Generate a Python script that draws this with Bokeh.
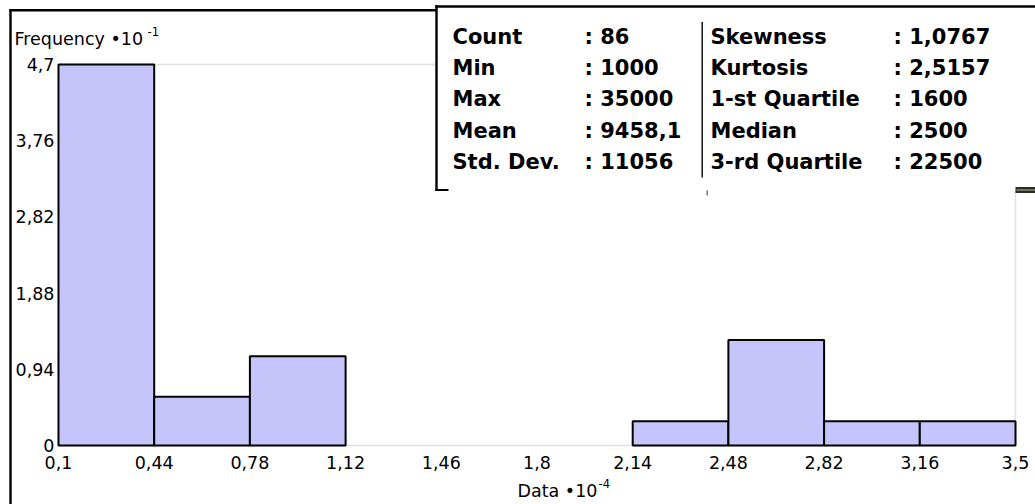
from bokeh.plotting import figure
from bokeh.models import Range1d, FixedTicker, BoxAnnotation, Label
from bokeh.embed import file_html
from bokeh.resources import INLINE

# ---------------- data ----------------
bin_edges = [0.1, 0.44, 0.78, 1.12, 1.46, 1.8, 2.14, 2.48, 2.82, 3.16, 3.5]
frequency = [4.7, 0.6, 1.1, 0.0, 0.0, 0.0, 0.3, 1.3, 0.3, 0.3]   # x 10^-1
x_tick_labels = ["0,1", "0,44", "0,78", "1,12", "1,46", "1,8",
                 "2,14", "2,48", "2,82", "3,16", "3,5"]
y_ticks = [0, 0.94, 1.88, 2.82, 3.76, 4.7]
y_tick_labels = ["0", "0,94", "1,88", "2,82", "3,76", "4,7"]

stat_names_left = ["Count", "Min", "Max", "Mean", "Std. Dev."]
stat_values_left = [": 86", ": 1000", ": 35000", ": 9458,1", ": 11056"]
stat_names_right = ["Skewness", "Kurtosis", "1-st Quartile", "Median", "3-rd Quartile"]
stat_values_right = [": 1,0767", ": 2,5157", ": 1600", ": 2500", ": 22500"]

# ---------------- layout (canvas pixels, from top-left) ----------------
W, H = 1035, 504
FL, FR, FT, FB = 58, 1015, 64, 445          # histogram area in pixels
X0, X1 = bin_edges[0], bin_edges[-1]
Y0, Y1 = y_ticks[0], y_ticks[-1]

def dx(px):
    return X0 + (px - FL) * (X1 - X0) / (FR - FL)

def dy(py):
    return Y0 + (FB - py) * (Y1 - Y0) / (FB - FT)

# the frame covers the whole canvas; axes are pinned to the data edges
p = figure(width=W, height=H, x_range=Range1d(dx(0), dx(W)), y_range=Range1d(dy(H), dy(0)),
           output_backend="svg", toolbar_location=None,
           min_border=0, min_border_left=0, min_border_right=0,
           min_border_top=0, min_border_bottom=0)
p.xgrid.visible = False
p.ygrid.visible = False
p.background_fill_color = "white"
p.border_fill_color = "white"
p.outline_line_color = None

FONT = "DejaVu Sans"
for ax in (p.xaxis[0], p.yaxis[0]):
    ax.axis_line_color = None
    ax.major_tick_line_color = None
    ax.minor_tick_line_color = None
    ax.major_tick_out = 0
    ax.major_tick_in = 0
    ax.minor_tick_out = 0
    ax.major_label_text_font = FONT
    ax.major_label_text_font_size = "17.5px"
    ax.major_label_text_color = "black"

p.xaxis[0].ticker = FixedTicker(ticks=bin_edges)
p.xaxis[0].major_label_overrides = {t: l for t, l in zip(bin_edges, x_tick_labels)}
p.xaxis[0].major_label_standoff = 10
p.xaxis[0].fixed_location = Y0
p.yaxis[0].ticker = FixedTicker(ticks=y_ticks)
p.yaxis[0].major_label_overrides = {t: l for t, l in zip(y_ticks, y_tick_labels)}
p.yaxis[0].major_label_standoff = 4
p.yaxis[0].fixed_location = X0

# gray plot-area frame (under the bars)
p.add_layout(BoxAnnotation(left=X0, right=X1, bottom=Y0, top=Y1, fill_alpha=0,
                           line_color="#9a9a9a", line_width=1.6, level="underlay"))

# ---------------- bars ----------------
lefts = [bin_edges[i] for i in range(len(frequency)) if frequency[i] > 0]
rights = [bin_edges[i + 1] for i in range(len(frequency)) if frequency[i] > 0]
tops = [f for f in frequency if f > 0]
p.quad(left=lefts, right=rights, bottom=0, top=tops,
       fill_color="#c5c5fb", line_color="black", line_width=2)

# ---------------- helpers ----------------
def solid(l, r, t, b, color="black", level="annotation"):
    p.add_layout(BoxAnnotation(left=dx(l), right=dx(r), top=dy(t), bottom=dy(b),
                               fill_color=color, fill_alpha=1.0, line_color=None,
                               level=level))

def text(x, y, s, size="17.5px", bold=False, level="annotation"):
    # y is the vertical centre of the capitals
    p.add_layout(Label(x=dx(x), y=dy(y), text=s, text_font=FONT, text_font_size=size,
                       text_font_style="bold" if bold else "normal",
                       text_baseline="alphabetic", text_align="left",
                       text_color="black", level=level))

# ---------------- outer frame ----------------
solid(8.8, 11.2, 8.8, 520)        # left border
solid(8.8, 440, 8.6, 11.0)        # top border

# axis titles
text(14, 38.5, "Frequency •10")
text(147, 31, "-1", size="11.5px")
text(517, 490, "Data •10")
text(598, 482.5, "-4", size="11.5px")

# ---------------- statistics box ----------------
solid(436, 1060, -5, 189.5, color="white", level="overlay")
solid(434.8, 437.2, 4.5, 190.6, level="overlay")     # left edge
solid(434.8, 1060, 4.8, 7.2, level="overlay")        # top edge
solid(434.8, 448, 188.4, 190.6, level="overlay")     # short bottom edge
solid(701.0, 702.4, 21.5, 177, level="overlay")      # divider
solid(706.0, 707.4, 190, 195, color="#666666", level="overlay")
solid(1015, 1060, 186.5, 192.5, color="#2c2c22", level="overlay")
solid(1016, 1060, 189, 190, color="#b8b89a", level="overlay")

cols = [(452, stat_names_left), (584, stat_values_left),
        (710, stat_names_right), (893, stat_values_right)]
for x0, texts in cols:
    for i, t in enumerate(texts):
        text(x0, 36.5 + i * 31.2, t, size="21px", bold=True, level="overlay")

open("out.html", "w").write(file_html(p, INLINE))
